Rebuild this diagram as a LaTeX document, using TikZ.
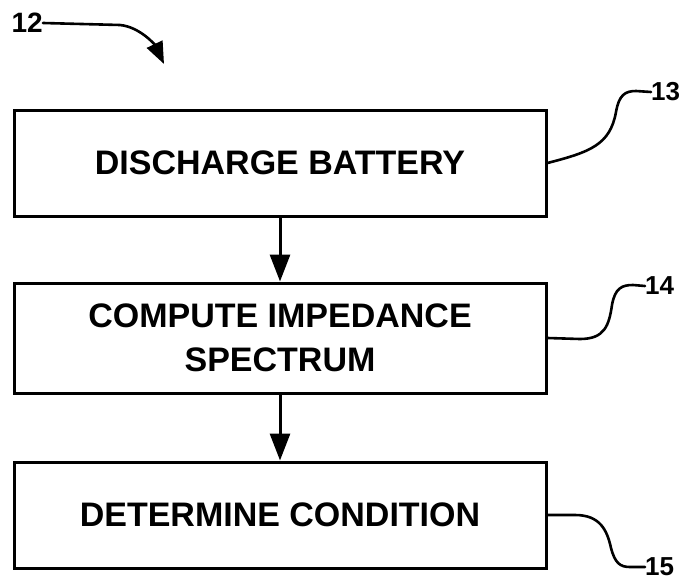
\documentclass[tikz,border=0pt]{standalone}
\usepackage{fontspec}
\setmainfont{Liberation Sans}
\usetikzlibrary{arrows.meta}

\tikzset{
  stepbox/.style={draw, line width=3pt, minimum width=532pt, inner sep=0pt,
    align=center, font=\bfseries\fontsize{34}{44}\selectfont},
  flow/.style={line width=3pt, -{Triangle[width=20pt,length=27pt]}},
  leader/.style={line width=2.6pt, line cap=round},
  refnum/.style={inner sep=0pt, font=\bfseries\fontsize{26}{26}\selectfont},
}

\begin{document}
\begin{tikzpicture}[x=1pt, y=-1pt]
  \useasboundingbox (0,0) rectangle (684,583);

  % process steps
  \node[stepbox, minimum height=106pt] (b1) at (280,163) {DISCHARGE BATTERY};
  \node[stepbox, minimum height=110pt] (b2) at (280,338) {COMPUTE IMPEDANCE\\SPECTRUM};
  \node[stepbox, minimum height=106pt] (b3) at (280,515) {DETERMINE CONDITION};

  % flow between steps
  \draw[flow] (b1.south) -- (b2.north);
  \draw[flow] (b2.south) -- (b3.north);

  % reference numeral for the whole method
  \node[refnum, anchor=east, font=\bfseries\fontsize{28}{28}\selectfont] (l12) at (43,23) {12};
  \draw[leader, -{Triangle[width=17pt,length=22pt]}]
    (l12.east) -- (120,25) .. controls (140,27) and (155,45) .. (164,64);

  % reference numerals for the steps
  \node[refnum, anchor=west] (l13) at (651,92) {13};
  \draw[leader] (b1.east) .. controls (590,152) and (610,145) .. (616,112)
    .. controls (619,95) and (625,91) .. (636,91) -- (l13.west);

  \node[refnum, anchor=west] (l14) at (645,286) {14};
  \draw[leader] (b2.east) -- (580,339) .. controls (605,339) and (609,325) .. (612,305)
    .. controls (615,288) and (622,285) .. (633,285) -- (l14.west);

  \node[refnum, anchor=west] (l15) at (645,567) {15};
  \draw[leader] (b3.east) -- (575,515) .. controls (600,515) and (607,530) .. (611,548)
    .. controls (615,563) and (620,567) .. (630,567) -- (l15.west);
\end{tikzpicture}
\end{document}
